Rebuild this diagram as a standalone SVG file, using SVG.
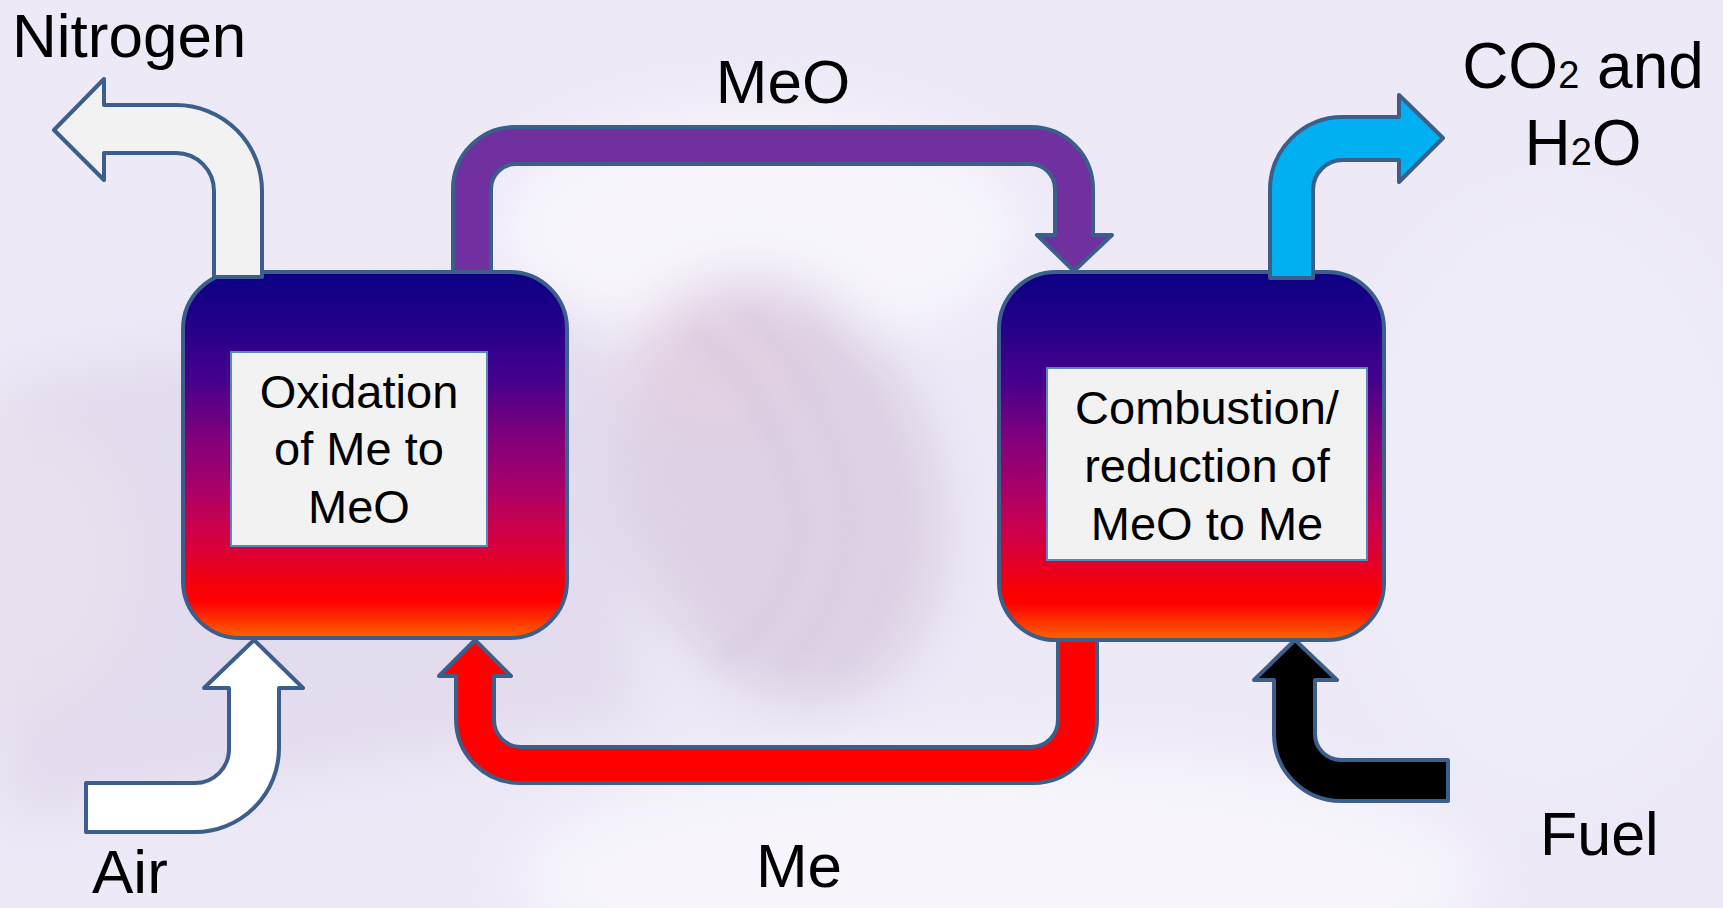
<svg xmlns="http://www.w3.org/2000/svg" width="1723" height="908" viewBox="0 0 1723 908">
  <defs>
    <linearGradient id="fire" x1="0" y1="0" x2="0" y2="1">
      <stop offset="0" stop-color="#0c0082"/>
      <stop offset="0.15" stop-color="#25008a"/>
      <stop offset="0.30" stop-color="#48008c"/>
      <stop offset="0.45" stop-color="#80007c"/>
      <stop offset="0.58" stop-color="#a6006a"/>
      <stop offset="0.70" stop-color="#cc004c"/>
      <stop offset="0.78" stop-color="#e0002e"/>
      <stop offset="0.86" stop-color="#f80008"/>
      <stop offset="0.90" stop-color="#ff0000"/>
      <stop offset="0.96" stop-color="#ff3c00"/>
      <stop offset="1" stop-color="#ff6600"/>
    </linearGradient>
    <filter id="blur" x="-20%" y="-20%" width="140%" height="140%">
      <feGaussianBlur stdDeviation="28"/>
    </filter>
    <filter id="blur2" x="-20%" y="-20%" width="140%" height="140%">
      <feGaussianBlur stdDeviation="10"/>
    </filter>
  </defs>
  <style>
    .lbl { font-family: "Liberation Sans", Arial, sans-serif; fill: #000000; }
    .big { font-size: 62px; }
    .inner { font-size: 47px; text-anchor: middle; }
    .reactor { fill: url(#fire); stroke: #3c5e8b; stroke-width: 4; }
    .tbox { fill: #f2f2f2; stroke: #5a86bd; stroke-width: 2; }
    .arrow { stroke: #3c5e8b; stroke-width: 4; stroke-linejoin: round; }
  </style>

  <!-- background -->
  <g id="background">
    <rect x="0" y="0" width="1723" height="908" fill="#ede9f7"/>
    <g filter="url(#blur)">
      <polygon points="0,380 600,290 640,720 0,820" fill="#e3dbee"/>
      <ellipse cx="0" cy="560" rx="140" ry="160" fill="#e8e0ee"/>
      <ellipse cx="760" cy="230" rx="260" ry="120" fill="#f8f6fc"/>
      <ellipse cx="1000" cy="880" rx="480" ry="130" fill="#f7f5fb"/>
      <ellipse cx="1550" cy="500" rx="200" ry="300" fill="#efecf9"/>
      <ellipse cx="780" cy="490" rx="160" ry="220" transform="rotate(-18 780 490)" fill="#ddd2e5"/>
      <ellipse cx="720" cy="360" rx="90" ry="70" fill="#e2d0e2"/>
    </g>
    <g filter="url(#blur2)" opacity="0.4">
      <path d="M690 330 Q770 380 800 520 Q790 620 720 660" fill="none" stroke="#cdc1da" stroke-width="16"/>
      <path d="M740 310 Q830 380 850 520 Q840 620 780 670" fill="none" stroke="#cdc1da" stroke-width="14"/>
      <path d="M800 320 Q890 400 900 530 Q880 630 830 670" fill="none" stroke="#d3c8df" stroke-width="12"/>
    </g>
  </g>

  <!-- reactors -->
  <g id="oxidation-reactor">
    <rect class="reactor" x="183" y="272" width="384" height="366" rx="57" ry="57"/>
    <rect class="tbox" x="231" y="352" width="256" height="194"/>
    <text class="lbl inner" x="359" y="408">Oxidation</text>
    <text class="lbl inner" x="359" y="465">of Me to</text>
    <text class="lbl inner" x="359" y="523">MeO</text>
  </g>

  <g id="reduction-reactor">
    <rect class="reactor" x="999" y="272" width="385" height="368" rx="57" ry="57"/>
    <rect class="tbox" x="1047" y="368" width="320" height="192"/>
    <text class="lbl inner" x="1207" y="424">Combustion/</text>
    <text class="lbl inner" x="1207" y="482">reduction of</text>
    <text class="lbl inner" x="1207" y="540">MeO to Me</text>
  </g>

  <!-- connectors -->
  <g id="connectors">
    <path id="nitrogen-arrow" class="arrow" fill="#f2f2f2"
      d="M262 277 L262 191 A86 86 0 0 0 176 105 L104 105 L104 79 L54 130 L104 180 L104 153 L176 153 A38 38 0 0 1 214 191 L214 277 Z"/>
    <path id="meo-arrow" class="arrow" fill="#7030a0"
      d="M453 272 L453 189 A62 62 0 0 1 515 127 L1031 127 A62 62 0 0 1 1093 189 L1093 235 L1112 235 L1074 271 L1037 235 L1055 235 L1055 189 A25 25 0 0 0 1030 164 L516 164 A25 25 0 0 0 491 189 L491 272 Z"/>
    <path id="co2-arrow" class="arrow" fill="#00b0f0"
      d="M1270 278 L1270 190 A73 73 0 0 1 1343 117 L1399 117 L1399 95 L1443 138 L1399 182 L1399 160 L1343 160 A30 30 0 0 0 1313 190 L1313 278 Z"/>
    <path id="air-arrow" class="arrow" fill="#ffffff"
      d="M254 640 L303 688 L279 688 L279 748 A84 84 0 0 1 195 832 L86 832 L86 783 L195 783 A34 34 0 0 0 229 749 L229 688 L204 688 Z"/>
    <path id="me-arrow" class="arrow" fill="#ff0000"
      d="M475 640 L511 676 L494 676 L494 720 A27 27 0 0 0 521 747 L1031 747 A27 27 0 0 0 1058 720 L1058 640 L1097 640 L1097 719 A64 64 0 0 1 1033 783 L520 783 A64 64 0 0 1 456 719 L456 676 L439 676 Z"/>
    <path id="fuel-arrow" class="arrow" fill="#000000"
      d="M1295 640 L1337 680 L1315 680 L1315 734 A26 26 0 0 0 1341 760 L1448 760 L1448 801 L1341 801 A67 67 0 0 1 1274 734 L1274 680 L1254 680 Z"/>
  </g>

  <!-- labels -->
  <g id="labels">
    <text class="lbl big" x="12" y="57">Nitrogen</text>
    <text class="lbl big" x="783" y="103" text-anchor="middle">MeO</text>
    <text class="lbl" x="1583" y="88" text-anchor="middle" font-size="64">CO<tspan font-size="38">2</tspan> and</text>
    <text class="lbl" x="1583" y="165" text-anchor="middle" font-size="64">H<tspan font-size="38">2</tspan>O</text>
    <text class="lbl big" x="92" y="893">Air</text>
    <text class="lbl big" x="799" y="887" text-anchor="middle">Me</text>
    <text class="lbl" x="1540" y="855" font-size="61">Fuel</text>
  </g>
</svg>
